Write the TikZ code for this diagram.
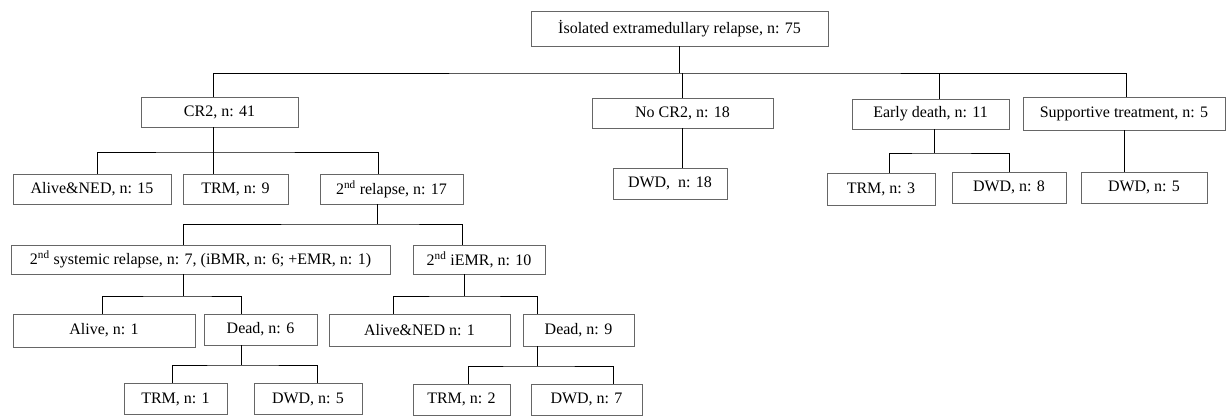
\documentclass[tikz,border=0pt]{standalone}
\usepackage{fontspec}
\setmainfont{Liberation Serif}
\usepackage{tikz}
\tikzstyle{outcome}=[rectangle,draw=black!60,line width=0.8pt,inner sep=0pt,minimum height=30pt]
\tikzstyle{link}=[draw=black,line width=0.8pt]

\begin{document}
\begin{tikzpicture}[x=1pt, y=-1pt, font=\fontsize{16}{19}\selectfont]
      \useasboundingbox (0,0) rectangle (1227,416);
      % first level
      \node [outcome, minimum width=297pt, minimum height=35pt] (root) at (679.5,28.5) {İsolated extramedullary relapse, n: 75};
      \node [outcome, minimum width=157pt] (cr2) at (219.5,112) {CR2, n: 41};
      \node [outcome, minimum width=181pt] (nocr2) at (682.5,113) {No CR2, n: 18};
      \node [outcome, minimum width=157pt] (early) at (930.5,114) {Early death, n: 11};
      \node [outcome, minimum width=202pt, minimum height=33pt] (support) at (1124,113.5) {Supportive treatment, n: 5};
      % second level
      \node [outcome, minimum width=158pt] (alive) at (92,189) {Alive\&NED, n: 15};
      \node [outcome, minimum width=105pt] (trm) at (235.5,189) {TRM, n: 9};
      \node [outcome, minimum width=143pt] (relapse) at (391.5,189) {2\textsuperscript{nd} relapse, n: 17};
      \node [outcome, minimum width=114pt, minimum height=31pt] (nocrdwd) at (670,183.5) {DWD,~ n: 18};
      \node [outcome, minimum width=108pt, minimum height=32pt] (earlytrm) at (881,189) {TRM, n: 3};
      \node [outcome, minimum width=114pt, minimum height=31pt] (earlydwd) at (1009,187.5) {DWD, n: 8};
      \node [outcome, minimum width=126pt, minimum height=31pt] (supportdwd) at (1144,187.5) {DWD, n: 5};
      % after second relapse
      \node [outcome, minimum width=379pt, minimum height=29pt] (systemic) at (200.5,259.5) {2\textsuperscript{nd} systemic relapse, n: 7, (iBMR, n: 6; +EMR, n: 1)};
      \node [outcome, minimum width=132pt, minimum height=29pt] (iemr) at (479,259.5) {2\textsuperscript{nd} iEMR, n: 10};
      \node [outcome, minimum width=182pt, minimum height=33pt] (sysalive) at (104,330.5) {Alive, n: 1};
      \node [outcome, minimum width=113pt, minimum height=31pt] (sysdead) at (260.5,329.5) {Dead, n: 6};
      \node [outcome, minimum width=181pt, minimum height=32pt] (iemralive) at (419.5,330) {Alive\&NED n: 1};
      \node [outcome, minimum width=111pt, minimum height=32pt] (iemrdead) at (578.5,330) {Dead, n: 9};
      \node [outcome, minimum width=103pt, minimum height=31pt] (systrm) at (175.5,399) {TRM, n: 1};
      \node [outcome, minimum width=108pt, minimum height=31pt] (sysdwd) at (308,399) {DWD, n: 5};
      \node [outcome, minimum width=97pt, minimum height=31pt] (iemrtrm) at (461.5,399.5) {TRM, n: 2};
      \node [outcome, minimum width=111pt, minimum height=31pt] (iemrdwd) at (586.5,399.5) {DWD, n: 7};
      % junctions
      \coordinate (j0) at (680,73);
      \coordinate (j1) at (213,152);
      \coordinate (j2) at (934,153);
      \coordinate (j3) at (377,224);
      \coordinate (j4) at (183,296);
      \coordinate (j5) at (464,296);
      \coordinate (j6) at (241,365);
      \coordinate (j7) at (537,366);
      % connectors
      \draw [link] (root.south) -- (root.south |- j0);
      \draw [link] ([xshift=-6.5pt]cr2.north) |- (j0) -| ([xshift=2pt]support.north);
      \draw [link] (nocr2.north) -- (nocr2.north |- j0);
      \draw [link] ([xshift=8.5pt]early.north) -- ([xshift=8.5pt]early.north |- j0);
      \draw [link] ([xshift=-6.5pt]cr2.south) -- ([xshift=-6.5pt]cr2.south |- trm.north);
      \draw [link] ([xshift=5pt]alive.north) |- (j1) -| ([xshift=-13.5pt]relapse.north);
      \draw [link] (nocr2.south) -- (nocr2.south |- nocrdwd.north);
      \draw [link] ([xshift=3.5pt]early.south) -- (j2);
      \draw [link] ([xshift=8pt]earlytrm.north) |- (j2) -| (earlydwd.north);
      \draw [link] (support.south) -- (support.south |- supportdwd.north);
      \draw [link] ([xshift=-14.5pt]relapse.south) -- (j3);
      \draw [link] ([xshift=-17.5pt]systemic.north) |- (j3) -| ([xshift=-17pt]iemr.north);
      \draw [link] ([xshift=-17.5pt]systemic.south) -- (j4);
      \draw [link] ([xshift=-2pt]sysalive.north) |- (j4) -| ([xshift=-19.5pt]sysdead.north);
      \draw [link] ([xshift=-15pt]iemr.south) -- (j5);
      \draw [link] ([xshift=-26.5pt]iemralive.north) |- (j5) -| ([xshift=-41.5pt]iemrdead.north);
      \draw [link] ([xshift=-19.5pt]sysdead.south) -- (j6);
      \draw [link] ([xshift=-3.5pt]systrm.north) |- (j6) -| ([xshift=9pt]sysdwd.north);
      \draw [link] ([xshift=-41.5pt]iemrdead.south) -- (j7);
      \draw [link] ([xshift=6.5pt]iemrtrm.north) |- (j7) -| ([xshift=26.5pt]iemrdwd.north);
\end{tikzpicture}
\end{document}
